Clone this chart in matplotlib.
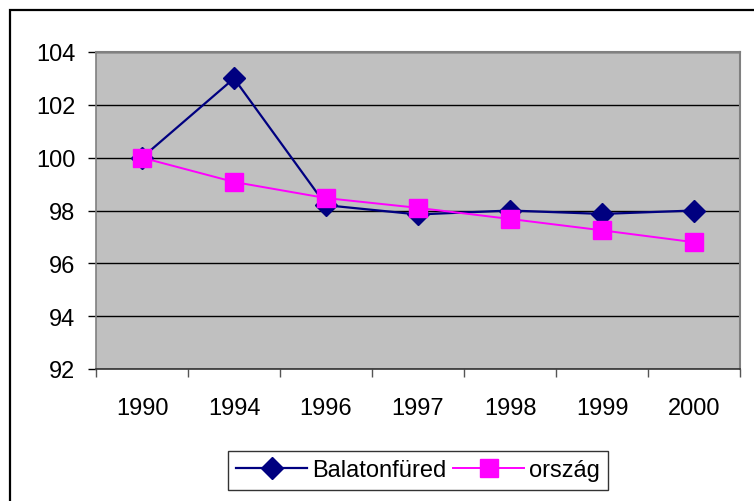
import matplotlib
matplotlib.use("Agg")
import matplotlib.pyplot as plt
from matplotlib.patches import Rectangle

categories = ["1990", "1994", "1996", "1997", "1998", "1999", "2000"]
balatonfured = [100.0, 103.0, 98.2, 97.85, 98.0, 97.87, 98.0]
orszag = [100.0, 99.08, 98.47, 98.1, 97.68, 97.25, 96.8]
yticks = [92, 94, 96, 98, 100, 102, 104]

plt.rcParams['font.family'] = ['Liberation Sans', 'DejaVu Sans']

W, H = 754, 502
fig = plt.figure(figsize=(W / 100, H / 100), dpi=100)
fig.patch.set_facecolor('white')

# outer chart border
fig.add_artist(Rectangle((10 / W, -0.05), 2.0, (H - 11) / H + 0.05,
                         transform=fig.transFigure, fill=False,
                         edgecolor='black', linewidth=1.6))

L, R, T, B = 96, 740, 53, 370
ax = fig.add_axes([L / W, 1 - B / H, (R - L) / W, (B - T) / H])
ax.set_facecolor('#C0C0C0')

x = list(range(len(categories)))
ax.plot(x, balatonfured, color='#000080', linewidth=1.6, marker='D',
        markersize=11, markerfacecolor='#000080', markeredgecolor='#000080',
        label='Balatonfüred', zorder=3)
ax.plot(x, orszag, color='#FF00FF', linewidth=1.4, marker='s',
        markersize=12.5, markerfacecolor='#FF00FF', markeredgecolor='#FF00FF',
        label='ország', zorder=4)

ax.set_xlim(-0.5, len(categories) - 0.5)
ax.set_ylim(92, 104)
ax.set_yticks(yticks)
ax.set_yticklabels([str(v) for v in yticks], fontsize=17)
ax.set_xticks([i - 0.5 for i in range(len(categories) + 1)], minor=False)
ax.set_xticklabels([])
ax.set_xticks(x, minor=True)
ax.set_xticklabels(categories, minor=True, fontsize=17)
ax.tick_params(axis='x', which='minor', length=0, pad=20)
ax.tick_params(axis='x', which='major', length=6, width=1, color='#555555', direction='out')
ax.tick_params(axis='y', length=6, width=1, color='black', direction='out', pad=9)

ax.yaxis.grid(True, color='black', linewidth=1)
ax.set_axisbelow(True)
for s in ['top', 'right']:
    ax.spines[s].set_color('#808080')
    ax.spines[s].set_linewidth(1.5)
ax.spines['left'].set_color('#808080')
ax.spines['left'].set_linewidth(1.2)
ax.spines['bottom'].set_color('#333333')
ax.spines['bottom'].set_linewidth(1.2)

leg = fig.legend(loc='upper left', bbox_to_anchor=(228 / W, 1 - 452 / H),
                 ncol=2, fontsize=17, frameon=True, fancybox=False,
                 edgecolor='black', handlelength=3.0, columnspacing=0.3,
                 handletextpad=0.2, borderpad=0.35, borderaxespad=0)
leg.get_frame().set_linewidth(1.0)

fig.savefig('out.png', dpi=100, facecolor='white')
